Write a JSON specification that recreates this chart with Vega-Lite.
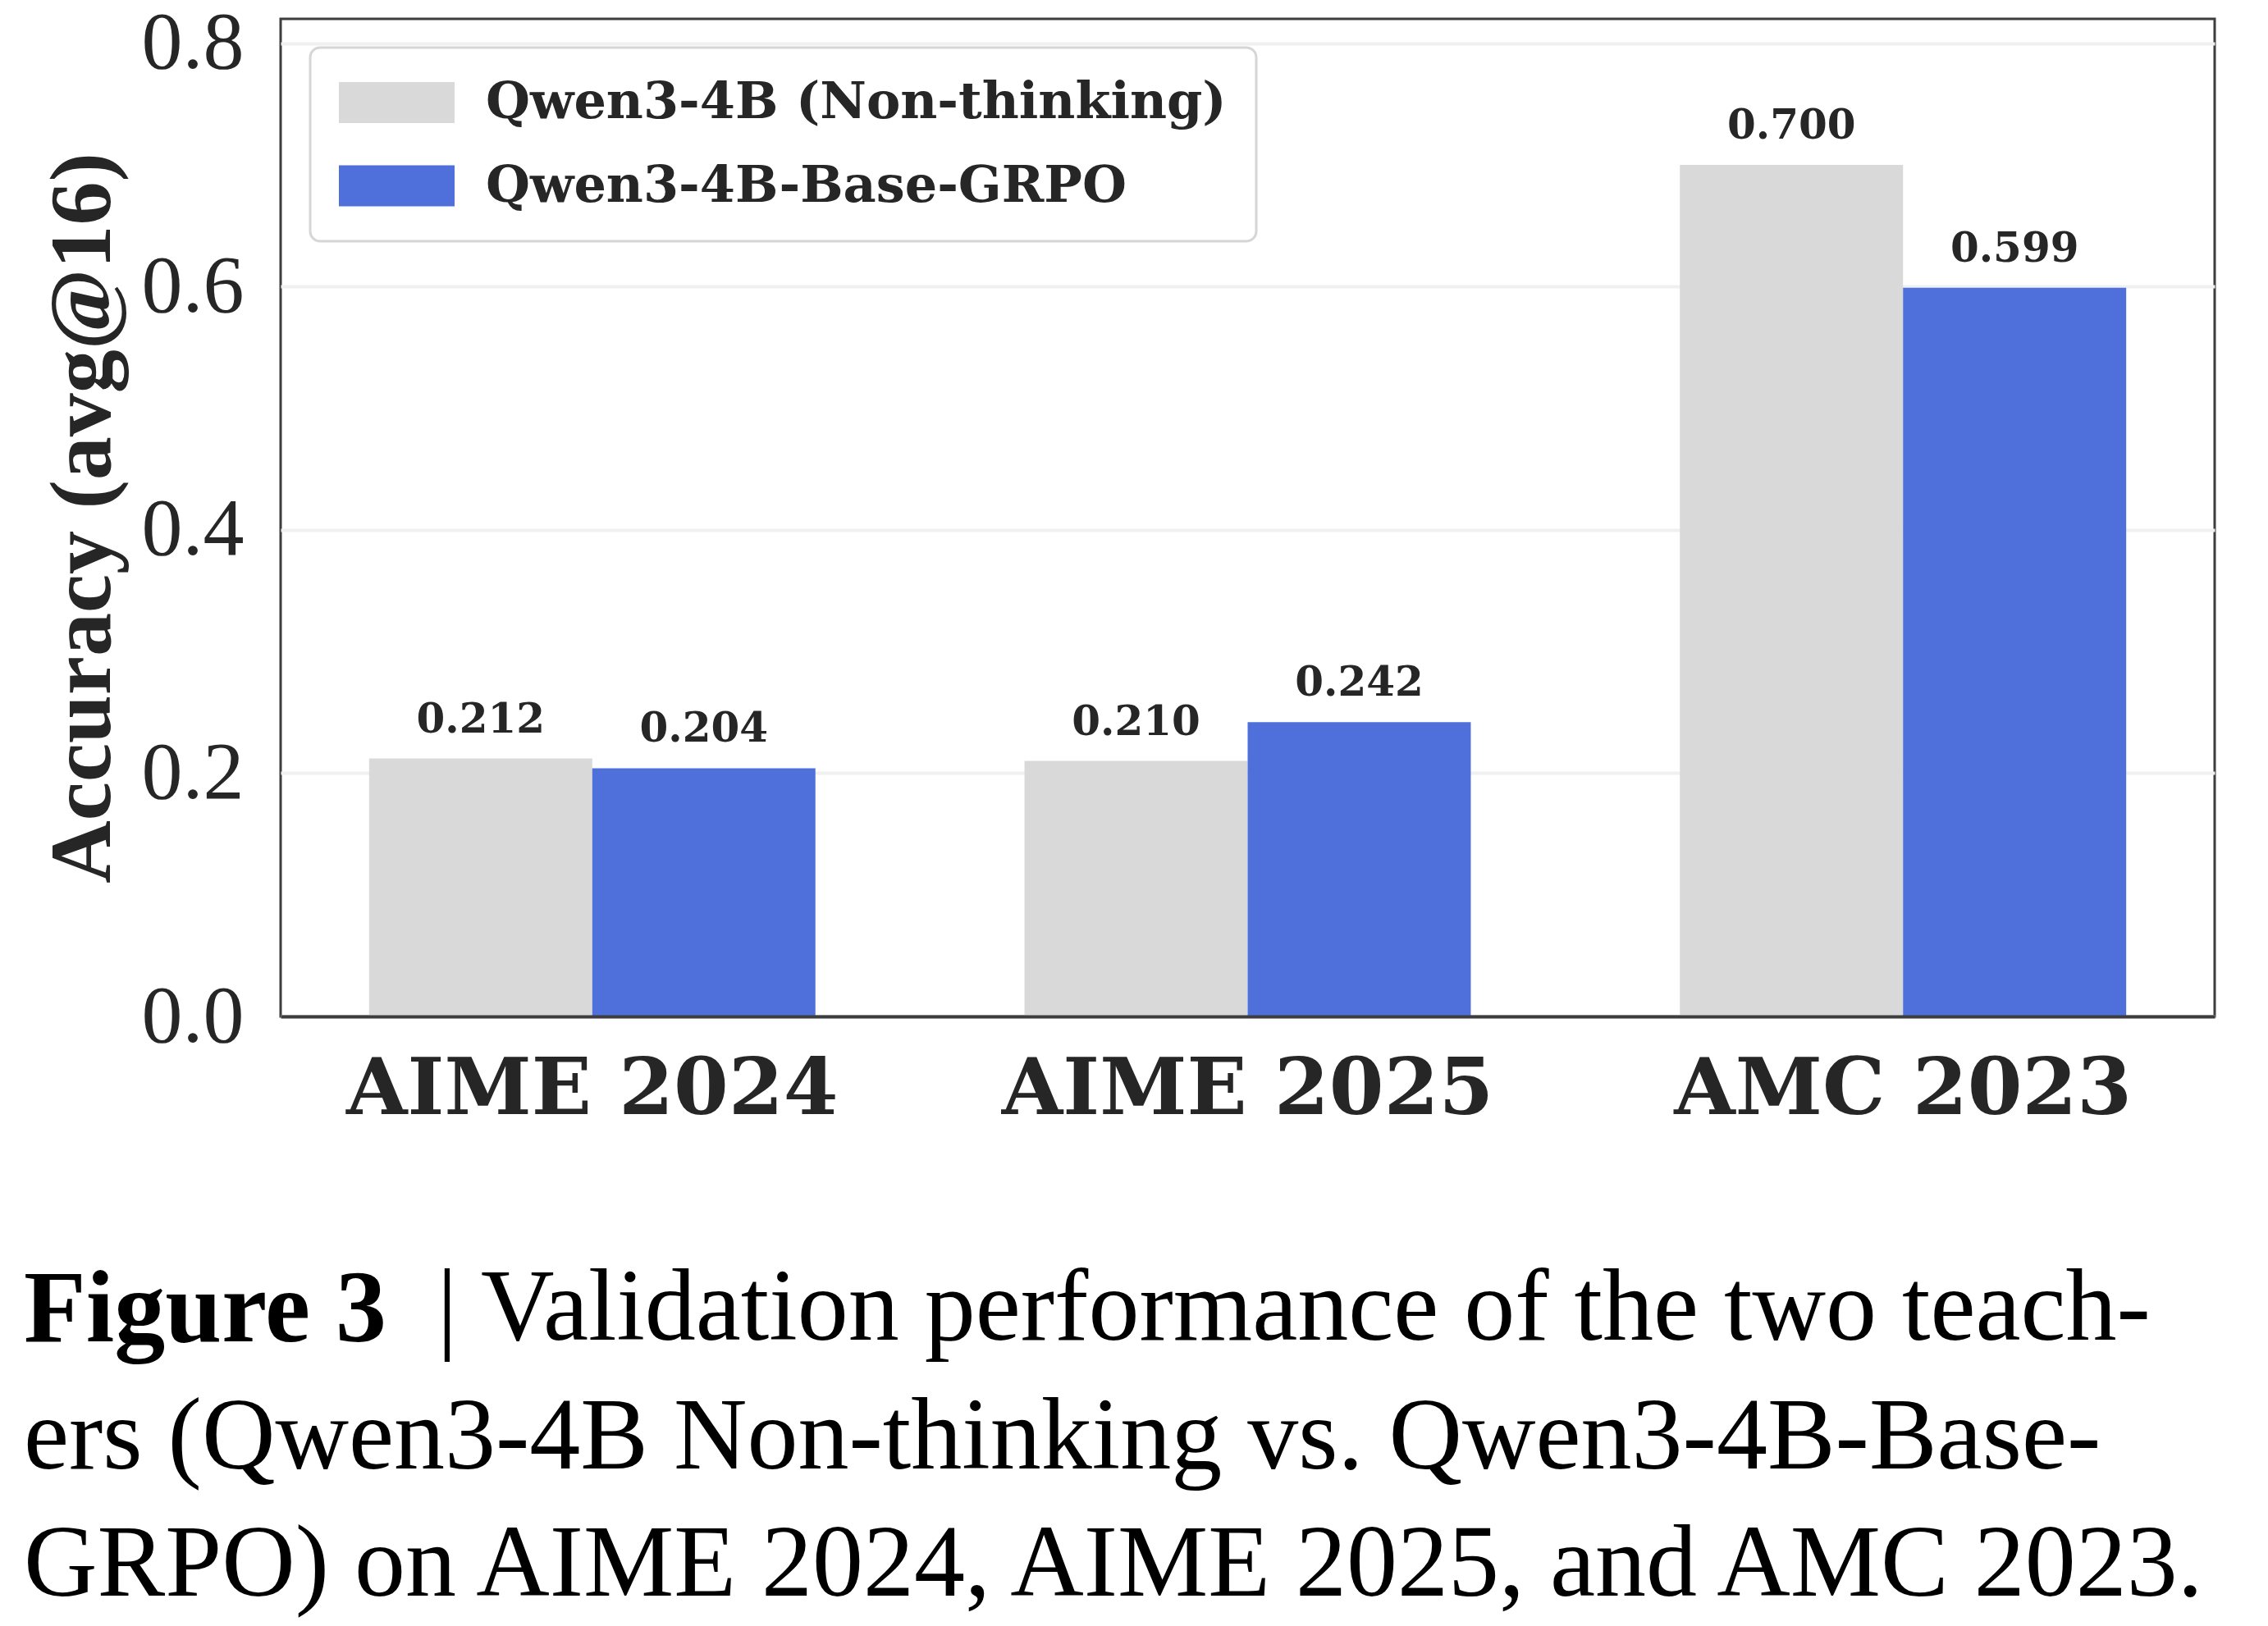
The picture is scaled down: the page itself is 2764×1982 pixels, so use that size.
{
  "$schema": "https://vega.github.io/schema/vega-lite/v6.json",
  "width": 2357,
  "height": 1216,
  "autosize": {"type": "none"},
  "padding": {"left": 342, "top": 23, "right": 65, "bottom": 743},
  "background": "white",
  "data": {
    "values": [
      {"benchmark": "AIME 2024", "model": "Qwen3-4B (Non-thinking)", "accuracy": 0.212},
      {"benchmark": "AIME 2024", "model": "Qwen3-4B-Base-GRPO", "accuracy": 0.204},
      {"benchmark": "AIME 2025", "model": "Qwen3-4B (Non-thinking)", "accuracy": 0.210},
      {"benchmark": "AIME 2025", "model": "Qwen3-4B-Base-GRPO", "accuracy": 0.242},
      {"benchmark": "AMC 2023", "model": "Qwen3-4B (Non-thinking)", "accuracy": 0.700},
      {"benchmark": "AMC 2023", "model": "Qwen3-4B-Base-GRPO", "accuracy": 0.599}
    ]
  },
  "title": {
    "text": "Figure 3",
    "subtitle": [
      "ers (Qwen3-4B Non-thinking vs. Qwen3-4B-Base-",
      "GRPO) on AIME 2024, AIME 2025, and AMC 2023."
    ],
    "orient": "bottom",
    "anchor": "start",
    "frame": "group",
    "dx": -313,
    "offset": -22,
    "baseline": "alphabetic",
    "font": "Liberation Serif",
    "fontSize": 124,
    "fontWeight": "bold",
    "color": "#000000",
    "subtitleFont": "Liberation Serif",
    "subtitleFontSize": 124,
    "subtitleFontWeight": "normal",
    "subtitleColor": "#000000",
    "subtitleLineHeight": 155,
    "subtitlePadding": 31
  },
  "encoding": {
    "x": {
      "field": "benchmark",
      "type": "nominal",
      "sort": ["AIME 2024", "AIME 2025", "AMC 2023"],
      "scale": {"paddingInner": 0.319, "paddingOuter": 0.135},
      "axis": {
        "zindex": 1,
        "labelAngle": 0,
        "labelFont": "DejaVu Serif",
        "labelFontWeight": "bold",
        "labelFontSize": 96,
        "labelColor": "#262626",
        "labelBaseline": "alphabetic",
        "labelPadding": 118,
        "labelLimit": 3000,
        "ticks": false,
        "tickSize": 0,
        "domain": true,
        "domainColor": "#3d3d3d",
        "domainWidth": 4,
        "grid": false,
        "title": "| Validation performance of the two teach-",
        "titleFont": "Liberation Serif",
        "titleFontWeight": "normal",
        "titleFontSize": 124,
        "titleColor": "#000000",
        "titleX": 190,
        "titleY": 393,
        "titleAlign": "left",
        "titleAnchor": "start",
        "titleBaseline": "alphabetic",
        "titleLimit": 4000
      }
    },
    "xOffset": {
      "field": "model",
      "type": "nominal",
      "sort": ["Qwen3-4B (Non-thinking)", "Qwen3-4B-Base-GRPO"],
      "scale": {"paddingInner": 0, "paddingOuter": 0}
    },
    "y": {
      "field": "accuracy",
      "type": "quantitative",
      "scale": {"domain": [0, 0.82], "nice": false, "zero": true},
      "axis": {
        "values": [0, 0.2, 0.4, 0.6, 0.8],
        "format": ".1f",
        "labelFont": "Liberation Serif",
        "labelFontSize": 100,
        "labelColor": "#262626",
        "labelPadding": 45,
        "ticks": false,
        "tickSize": 0,
        "domain": false,
        "grid": true,
        "gridColor": "#f0f0f0",
        "gridWidth": 4,
        "title": "Accuracy (avg@16)",
        "titleFont": "Liberation Serif",
        "titleFontWeight": "bold",
        "titleFontSize": 106,
        "titleColor": "#262626",
        "titleAngle": 270,
        "titleX": -209,
        "titleY": 608,
        "titleAlign": "center",
        "titleBaseline": "alphabetic"
      }
    }
  },
  "layer": [
    {
      "mark": {"type": "bar"},
      "encoding": {
        "color": {
          "field": "model",
          "type": "nominal",
          "sort": ["Qwen3-4B (Non-thinking)", "Qwen3-4B-Base-GRPO"],
          "scale": {
            "domain": ["Qwen3-4B (Non-thinking)", "Qwen3-4B-Base-GRPO"],
            "range": ["#d9d9d9", "#4f70db"]
          },
          "legend": {
            "title": null,
            "orient": "none",
            "legendX": 36,
            "legendY": 35,
            "symbolType": "M-2.82,-1H2.82V1H-2.82Z",
            "symbolSize": 2500,
            "symbolStrokeWidth": 0,
            "symbolOffset": 38.5,
            "labelOffset": 77.5,
            "padding": 36,
            "rowPadding": 39.5,
            "labelFont": "DejaVu Serif",
            "labelFontWeight": "bold",
            "labelFontSize": 62,
            "labelColor": "#262626",
            "labelLimit": 3000,
            "strokeColor": "#d6d6d6",
            "fillColor": "#ffffff",
            "cornerRadius": 12,
            "symbolOpacity": 1
          }
        }
      }
    },
    {
      "mark": {
        "type": "text",
        "baseline": "alphabetic",
        "align": "center",
        "dy": -32,
        "font": "DejaVu Serif",
        "fontWeight": "bold",
        "fontSize": 50,
        "color": "#262626"
      },
      "encoding": {
        "text": {"field": "accuracy", "type": "quantitative", "format": ".3f"}
      }
    }
  ],
  "config": {
    "view": {"stroke": "#3d3d3d", "strokeWidth": 3},
    "bar": {"opacity": 1},
    "legend": {"strokeWidth": 3}
  }
}
